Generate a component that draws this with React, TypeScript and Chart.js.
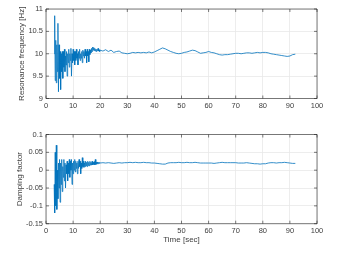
import React, { useEffect, useRef } from "react";
import { Chart, registerables } from "chart.js";

Chart.register(...registerables);

const timeSec = [
  3.0, 3.2, 3.4, 3.6, 3.8, 4.0, 4.2, 4.4, 4.6, 4.8, 5.0, 5.2, 5.4, 5.6, 5.8, 6.0, 6.2, 6.4, 6.6, 6.8,
  7.0, 7.2, 7.4, 7.6, 7.8, 8.0, 8.2, 8.4, 8.6, 8.8, 9.0, 9.2, 9.4, 9.6, 9.8, 10.0, 10.2, 10.4, 10.6, 10.8,
  11.0, 11.2, 11.4, 11.6, 11.8, 12.0, 12.2, 12.4, 12.6, 12.8, 13.0, 13.2, 13.4, 13.6, 13.8, 14.0, 14.2, 14.4, 14.6, 14.8,
  15.0, 15.2, 15.4, 15.6, 15.8, 16.0, 16.2, 16.4, 16.6, 16.8, 17.0, 17.2, 17.4, 17.6, 17.8, 18.0, 18.2, 18.4, 18.6, 18.8,
  19.0, 19.2, 19.4, 19.6, 19.8, 20.0,
  21, 22, 23, 24, 25, 26, 27, 28, 29, 30, 31, 32, 33, 34, 35, 36, 37, 38, 39, 40,
  41, 42, 43, 44, 45, 46, 47, 48, 49, 50, 51, 52, 53, 54, 55, 56, 57, 58, 59, 60,
  61, 62, 63, 64, 65, 66, 67, 68, 69, 70, 71, 72, 73, 74, 75, 76, 77, 78, 79, 80,
  81, 82, 83, 84, 85, 86, 87, 88, 89, 90, 91, 92,
];

const resonanceFreq = [
  10.0, 10.85, 9.4, 10.3, 9.35, 10.2, 9.6, 10.68, 9.15, 10.2, 9.45, 10.05, 9.2, 10.0, 9.6, 10.05, 9.45, 10.05, 9.7, 10.1,
  9.6, 9.95, 9.75, 10.05, 9.5, 10.0, 9.8, 10.1, 9.7, 10.0, 9.85, 10.12, 9.5, 10.0, 9.8, 10.1, 9.85, 10.05, 9.75, 10.05,
  9.85, 10.1, 9.9, 10.0, 9.75, 10.05, 9.9, 10.1, 9.85, 10.0, 9.9, 10.05, 9.8, 10.08, 9.95, 10.05, 9.9, 10.1, 9.95, 10.05,
  9.8, 10.1, 9.95, 10.05, 9.82, 10.1, 9.98, 10.08, 10.02, 10.12, 10.05, 10.15, 10.08, 10.14, 10.07, 10.12, 10.06, 10.1, 10.05, 10.1,
  10.07, 10.12, 10.06, 10.09, 10.05, 10.08,
  10.06, 10.09, 10.05, 10.08, 10.03, 10.05, 10.06, 10.02, 10.01, 10.0, 10.01, 10.03, 10.02, 10.03, 10.02, 10.03, 10.02, 10.04, 10.02, 10.04,
  10.07, 10.1, 10.13, 10.11, 10.08, 10.05, 10.03, 10.01, 10.0, 10.01, 10.03, 10.04, 10.06, 10.08, 10.07, 10.04, 10.01, 10.02, 10.03, 10.05,
  10.03, 10.02, 10.0, 9.98, 9.97, 9.98, 9.98, 9.99, 10.0, 10.01, 10.01, 10.0, 10.01, 10.02, 10.02, 10.01, 10.02, 10.03, 10.02, 10.03,
  10.03, 10.02, 10.0, 9.99, 9.98, 9.97, 9.96, 9.95, 9.94, 9.95, 9.98, 9.99,
];

const dampingFactor = [
  -0.04, -0.12, 0.05, -0.1, 0.07, -0.11, 0.0, -0.08, 0.02, -0.05, 0.03, -0.09, 0.02, -0.04, 0.03, -0.06, 0.01, -0.02, 0.03, -0.03,
  0.02, -0.05, 0.015, -0.01, 0.025, -0.03, 0.02, -0.01, 0.03, -0.02, 0.025, 0.0, 0.03, -0.04, 0.02, -0.01, 0.025, 0.0, 0.03, -0.005,
  0.025, 0.005, 0.02, -0.01, 0.025, 0.005, 0.03, 0.01, 0.025, -0.01, 0.02, 0.005, 0.035, 0.01, 0.025, 0.008, 0.02, 0.01, 0.025, 0.012,
  0.022, 0.01, 0.025, 0.013, 0.022, 0.012, 0.025, 0.015, 0.022, 0.014, 0.025, 0.015, 0.022, 0.016, 0.024, 0.015, 0.03, 0.016, 0.022, 0.017,
  0.023, 0.018, 0.022, 0.019, 0.022, 0.02,
  0.021, 0.02, 0.021, 0.02, 0.019, 0.02, 0.021, 0.02, 0.021, 0.021, 0.022, 0.021, 0.022, 0.021, 0.021, 0.022, 0.021, 0.021, 0.02, 0.02,
  0.019, 0.018, 0.017, 0.017, 0.02, 0.021, 0.021, 0.021, 0.022, 0.021, 0.021, 0.022, 0.021, 0.021, 0.022, 0.021, 0.02, 0.02, 0.02, 0.02,
  0.02, 0.019, 0.02, 0.021, 0.022, 0.021, 0.021, 0.021, 0.021, 0.021, 0.02, 0.02, 0.02, 0.021, 0.02, 0.019, 0.018, 0.018, 0.017, 0.018,
  0.018, 0.02, 0.021, 0.021, 0.02, 0.021, 0.021, 0.022, 0.021, 0.02, 0.019, 0.019,
];

const xTicks = [0, 10, 20, 30, 40, 50, 60, 70, 80, 90, 100];
const freqTicks = [9, 9.5, 10, 10.5, 11];
const dampTicks = [-0.15, -0.1, -0.05, 0, 0.05, 0.1];

const TEXT = "#404040";
const FONT = "'Liberation Sans', Arial, Helvetica, sans-serif";

const boxPlugin = {
  id: "matlabBox",
  afterDraw(chart: any) {
    const { ctx, chartArea } = chart;
    const { left, right, top, bottom } = chartArea;
    const xs = chart.scales.x;
    const ys = chart.scales.y;
    ctx.save();
    ctx.strokeStyle = "#262626";
    ctx.lineWidth = 0.6;
    ctx.beginPath();
    ctx.rect(left, top, right - left, bottom - top);
    ctx.stroke();
    const tl = 3;
    ctx.beginPath();
    xs.ticks.forEach((t: any) => {
      const px = xs.getPixelForValue(t.value);
      ctx.moveTo(px, bottom);
      ctx.lineTo(px, bottom - tl);
      ctx.moveTo(px, top);
      ctx.lineTo(px, top + tl);
    });
    ys.ticks.forEach((t: any) => {
      const py = ys.getPixelForValue(t.value);
      ctx.moveTo(left, py);
      ctx.lineTo(left + tl, py);
      ctx.moveTo(right, py);
      ctx.lineTo(right - tl, py);
    });
    ctx.stroke();
    ctx.restore();
  },
};

function makeConfig(
  values: number[],
  yTicks: number[],
  yTitle: string,
  xTitle: string | null,
  padTop: number,
  xHeight: number,
  yTitlePad: number
): any {
  return {
    type: "line",
    data: {
      datasets: [
        {
          data: timeSec.map((t, i) => ({ x: t, y: values[i] })),
          borderColor: "#0072BD",
          borderWidth: 0.8,
          pointRadius: 0,
          tension: 0,
          fill: false,
        },
      ],
    },
    options: {
      responsive: false,
      animation: false,
      devicePixelRatio: 1,
      layout: { padding: { top: padTop, right: 21, left: 0, bottom: 0 } },
      plugins: { legend: { display: false }, tooltip: { enabled: false } },
      scales: {
        x: {
          type: "linear",
          min: 0,
          max: 100,
          afterBuildTicks: (s: any) => {
            s.ticks = xTicks.map((v) => ({ value: v }));
          },
          afterFit: (s: any) => {
            s.height = xHeight;
          },
          grid: { color: "#e8e8e8", lineWidth: 0.8, drawTicks: false },
          border: { display: false },
          ticks: {
            color: TEXT,
            font: { family: FONT, size: 7.5 },
            padding: 3,
            maxRotation: 0,
            autoSkip: false,
            callback: (v: any) => String(v),
          },
          title: {
            display: !!xTitle,
            text: xTitle || "",
            color: TEXT,
            font: { family: FONT, size: 8 },
            padding: { top: 0, bottom: 9.2 },
          },
        },
        y: {
          type: "linear",
          min: yTicks[0],
          max: yTicks[yTicks.length - 1],
          afterBuildTicks: (s: any) => {
            s.ticks = yTicks.map((v) => ({ value: v }));
          },
          afterFit: (s: any) => {
            s.width = 46;
          },
          grid: { color: "#e8e8e8", lineWidth: 0.8, drawTicks: false },
          border: { display: false },
          ticks: {
            color: TEXT,
            font: { family: FONT, size: 7.5 },
            padding: 3,
            autoSkip: false,
            callback: (v: any) => String(v),
          },
          title: {
            display: true,
            text: yTitle,
            color: TEXT,
            font: { family: FONT, size: 8 },
            padding: { top: yTitlePad, bottom: 0 },
          },
        },
      },
    },
    plugins: [boxPlugin],
  };
}

function Panel(props: { cfg: any; top: number }) {
  const ref = useRef<HTMLCanvasElement | null>(null);
  useEffect(() => {
    if (!ref.current) return;
    const chart = new Chart(ref.current, props.cfg);
    return () => chart.destroy();
  }, []);
  return (
    <canvas
      ref={ref}
      width={338}
      height={127}
      style={{ position: "absolute", left: 0, top: props.top, width: 338, height: 127 }}
    />
  );
}

export default function App() {
  const topCfg = makeConfig(resonanceFreq, freqTicks, "Resonance frequency [Hz]", null, 9, 28.5, 17.2);
  const botCfg = makeConfig(dampingFactor, dampTicks, "Damping factor", "Time [sec]", 7.3, 30.3, 15.2);
  return (
    <div style={{ position: "absolute", left: 0, top: 0, width: 338, height: 254, background: "#fff" }}>
      <Panel cfg={topCfg} top={0} />
      <Panel cfg={botCfg} top={127} />
    </div>
  );
}
